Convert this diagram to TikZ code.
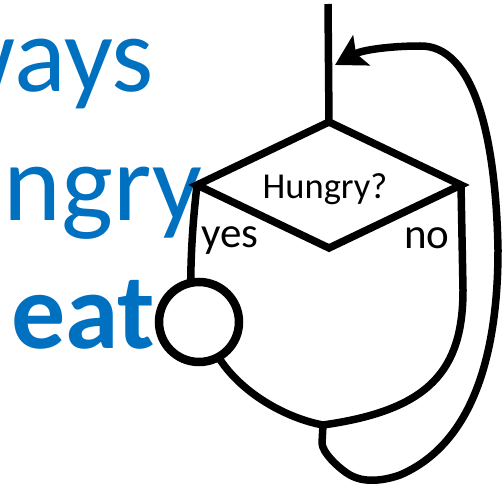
\documentclass[tikz,border=0pt]{standalone}
\usepackage{fontspec}
\setmainfont{Carlito}
\usetikzlibrary{shapes.geometric,arrows.meta}
\definecolor{titleblue}{RGB}{0,112,192}
\begin{document}
\begin{tikzpicture}[x=1pt,y=-1pt,
  flow/.style={line width=7.5pt, line join=round},
  bigtext/.style={text=titleblue, font=\fontsize{108}{108}\selectfont, anchor=base west, inner sep=0pt},
  lbl/.style={font=\fontsize{43}{43}\selectfont, anchor=base west, inner sep=0pt},
  decision/.style={diamond, draw, line width=7.5pt, line join=miter, minimum width=264pt, minimum height=126pt, inner sep=0pt, outer sep=0pt},
  action/.style={circle, draw, line width=8.5pt, minimum size=80pt, inner sep=0pt, outer sep=0pt}]
\useasboundingbox (0,0) rectangle (503,489);
\clip (0,0) rectangle (503,489);
\fill[white] (0,0) rectangle (503,489);
% blue words
\node[bigtext] (w1) at (-62,92) {ways};
\node[bigtext, font=\fontsize{110}{110}\selectfont] (w2) at (-54,220) {ungry};
\node[bigtext, font=\fontsize{108}{108}\selectfont\bfseries] (w3) at (11,348) {eat};
% shapes
\node[decision] (d) at (329,185) {};
\node[font=\fontsize{36.5}{36.5}\selectfont, anchor=base, inner sep=0pt] (q) at (325,198) {Hungry?};
\node[action] (c) at (199,322) {};
\node[lbl] (yes) at (201,247) {yes};
\node[lbl] (no) at (404,248) {no};
\coordinate (top) at (328,4);
\coordinate (entry) at (335,65);
\coordinate (J) at (323,425);
% connectors
\draw[flow] (top) -- (d.north);
\draw[flow] (d.west) .. controls (193,220) and (191,250) .. (c.102);
\draw[flow] (c.-61) .. controls (240,392) and (285,418) .. (J);
\draw[flow] (d.east) -- (463,290) .. controls (463,370) and (430,410) .. (J);
\draw[flow, -{Stealth[length=30pt,width=34pt,inset=6pt]}] (J) -- (322,443)
  .. controls (322,452) and (338,468) .. (350,475)
  .. controls (362,482) and (380,482) .. (400,475)
  .. controls (470,445) and (498,360) .. (498,250)
  .. controls (496,140) and (475,45) .. (420,46)
  .. controls (390,46) and (362,50) .. (entry);
\end{tikzpicture}
\end{document}
